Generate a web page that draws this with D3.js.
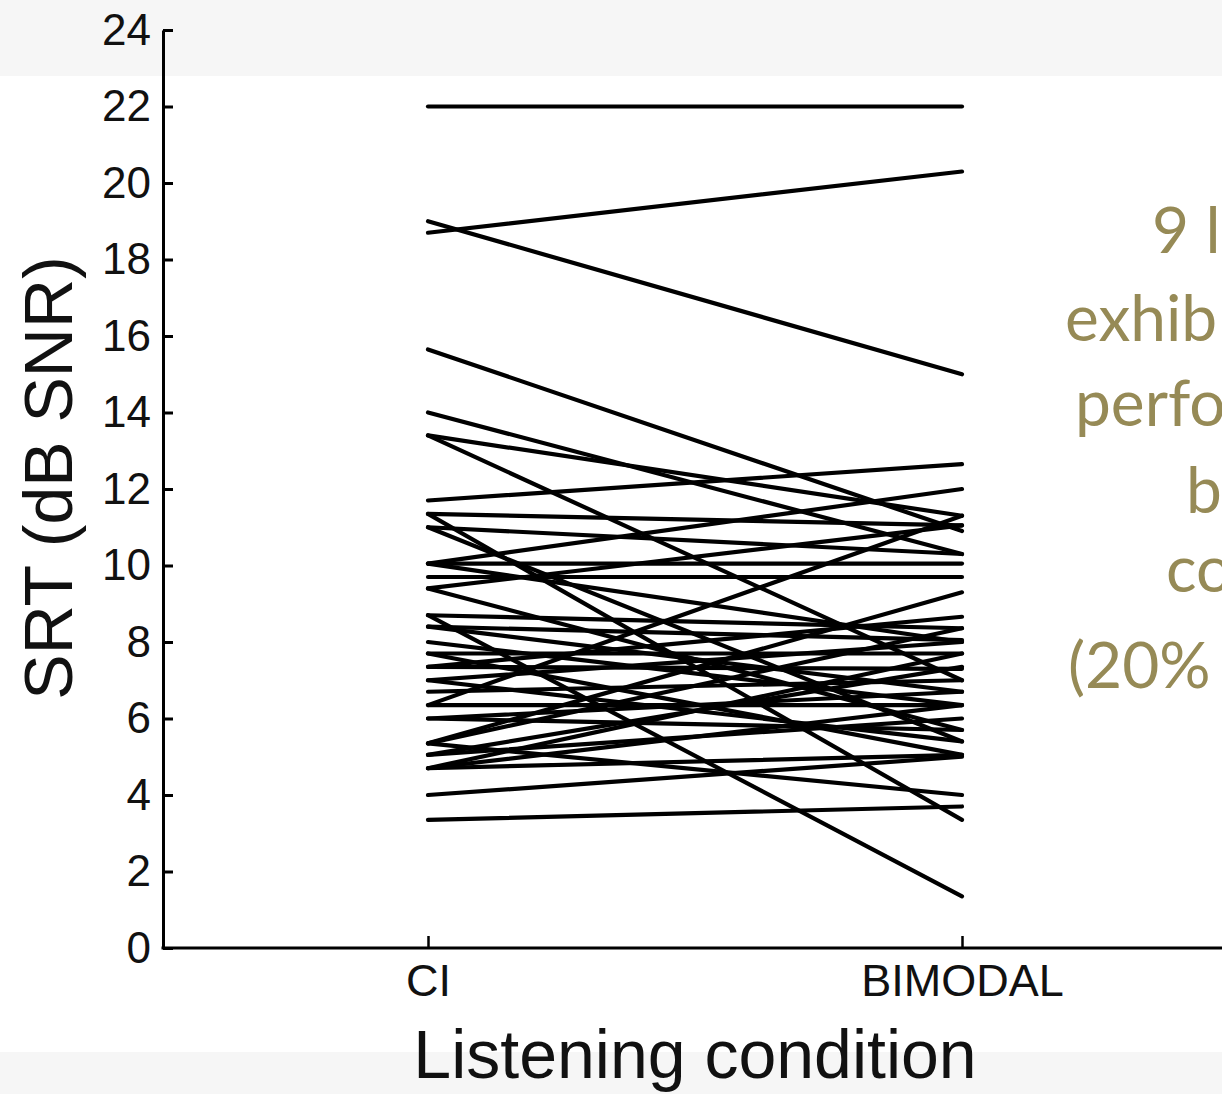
<!DOCTYPE html>
<html>
<head>
<meta charset="utf-8">
<script src="https://cdn.jsdelivr.net/npm/d3@7"></script>
<style>
  html, body { margin: 0; padding: 0; background: #ffffff; overflow: hidden; }
  svg { display: block; }
</style>
</head>
<body>
<svg id="chart" width="1222" height="1094"></svg>
<script>
// ---- data ----
const categories = ["CI", "BIMODAL"];
const ciValues = [
  22.0, 18.7, 19.0, 15.65, 14.0, 13.4, 13.4, 11.7, 11.35, 11.35,
  11.0, 10.05, 10.05, 9.7, 9.4, 9.4, 8.7, 8.7, 8.4, 8.4,
  8.0, 7.7, 7.7, 7.35, 7.35, 7.0, 7.0, 6.7, 6.35, 6.35,
  6.0, 6.0, 5.35, 5.35, 5.05, 5.05, 4.7, 4.7, 4.0, 3.35,
  5.35, 4.7, 10.05, 11.0
];
const bimodalValues = [
  22.0, 20.3, 15.0, 10.9, 10.3, 11.3, 7.0, 12.65, 3.35, 11.05,
  5.4, 12.0, 10.05, 9.7, 11.05, 5.7, 1.35, 8.36, 8.05, 6.7,
  6.35, 7.7, 5.05, 8.66, 7.3, 8.0, 5.4, 7.0, 6.35, 11.3,
  6.7, 5.7, 9.3, 4.0, 6.0, 7.35, 6.35, 5.05, 5.0, 3.7,
  8.36, 7.7, 8.0, 10.3
];
const yTicks = [0, 2, 4, 6, 8, 10, 12, 14, 16, 18, 20, 22, 24];
const yLabel = "SRT (dB SNR)";
const xLabel = "Listening condition";
const noteLines = ["9 l", "exhib", "perfo", "b", "co", "(20%"];
const noteX = [1152, 1065, 1075, 1186, 1166, 1068];
const noteY = [253, 341, 426, 513, 592, 688];

// ---- drawing ----
const svg = d3.select("#chart");
const W = 1222, H = 1094;
const axisX = 163, y0 = 948, yTop = 30;

// slide background bands
svg.append("rect").attr("x", 0).attr("y", 0).attr("width", W).attr("height", 76).attr("fill", "#f6f6f6");
svg.append("rect").attr("x", 0).attr("y", 1052).attr("width", W).attr("height", H - 1052).attr("fill", "#f6f6f6");

const x = d3.scalePoint().domain(categories).range([428, 962]);
const y = d3.scaleLinear().domain([0, 24]).range([y0, yTop]);

const font = "'Liberation Sans', Arial, Helvetica, sans-serif";

// data lines
const pairs = ciValues.map((v, i) => [v, bimodalValues[i]]);
const line = d3.line().x(d => x(d.c)).y(d => y(d.v));
svg.append("g").selectAll("path").data(pairs).join("path")
  .attr("d", p => line([{c: categories[0], v: p[0]}, {c: categories[1], v: p[1]}]))
  .attr("fill", "none").attr("stroke", "#000").attr("stroke-width", 4.2)
  .attr("stroke-linecap", "round");

// y axis
const gy = svg.append("g").attr("transform", `translate(${axisX},0)`)
  .call(d3.axisLeft(y).tickValues(yTicks).tickSizeInner(-10).tickSizeOuter(0).tickPadding(12));
gy.select(".domain").attr("stroke", "#000").attr("stroke-width", 3);
gy.selectAll(".tick line").attr("stroke", "#000").attr("stroke-width", 3);
gy.selectAll(".tick text").attr("font-family", font).attr("font-size", 44).attr("fill", "#111");

// x axis
const gx = svg.append("g").attr("transform", `translate(0,${y0})`)
  .call(d3.axisBottom(x).tickSizeInner(-12).tickSizeOuter(0).tickPadding(16));
gx.select(".domain").remove();
gx.append("line").attr("x1", axisX - 1.5).attr("x2", W).attr("y1", 0).attr("y2", 0)
  .attr("stroke", "#000").attr("stroke-width", 3);
gx.selectAll(".tick line").attr("stroke", "#000").attr("stroke-width", 2.5);
gx.selectAll(".tick text").attr("font-family", font).attr("font-size", 45).attr("fill", "#111");

// axis titles
svg.append("text").attr("x", 695).attr("y", 1078).attr("text-anchor", "middle")
  .attr("font-family", font).attr("font-size", 68).attr("fill", "#111").text(xLabel);
svg.append("text").attr("transform", "translate(72,478) rotate(-90)").attr("text-anchor", "middle")
  .attr("font-family", font).attr("font-size", 68).attr("fill", "#111").text(yLabel);

// side note (cut by slide edge, as in the reference)
svg.append("g").selectAll("text").data(noteLines).join("text")
  .attr("x", (d, i) => noteX[i]).attr("y", (d, i) => noteY[i])
  .attr("font-family", "Lato, 'Open Sans', sans-serif").attr("font-size", 64)
  .attr("fill", "#968a56").text(d => d);
</script>
</body>
</html>
